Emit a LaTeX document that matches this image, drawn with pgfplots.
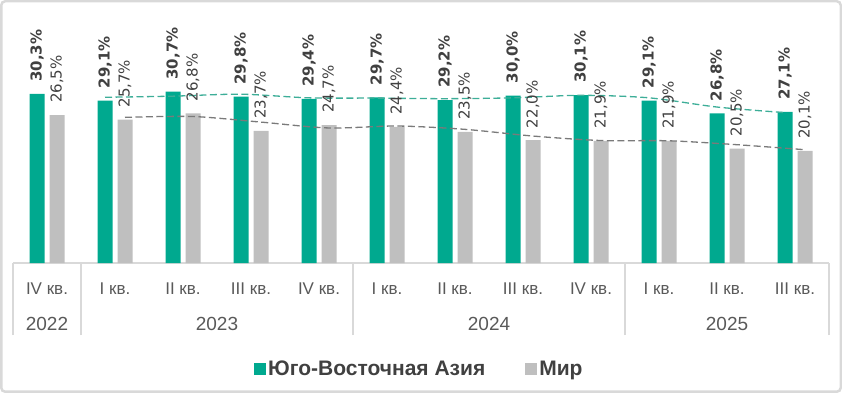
\documentclass[border=0pt]{standalone}
\usepackage{fontspec}
\setmainfont{Liberation Sans}
\newfontfamily\lab{DejaVu Sans}
\usepackage{pgfplots}
\pgfplotsset{compat=1.18}
\definecolor{sea}{HTML}{00A98F}
\definecolor{world}{HTML}{BFBFBF}
\definecolor{frame}{HTML}{D9D9D9}
\definecolor{txt}{HTML}{404040}
\definecolor{tickc}{HTML}{595959}
\definecolor{trendsea}{HTML}{3DAE98}
\definecolor{trendw}{HTML}{7A7A7A}
\begin{document}
\begin{tikzpicture}
\useasboundingbox (0,0) rectangle (842bp,393bp);
\draw[frame, line width=2.5bp, rounded corners=4bp] (1.25bp,1.25bp) rectangle (840.75bp,391.75bp);
\begin{axis}[
  at={(13bp,130bp)}, anchor=south west,
  scale only axis, width=816bp, height=223.2bp,
  xmin=-0.5, xmax=11.5, ymin=0, ymax=40,
  clip=false,
  axis y line=none,
  axis x line*=bottom,
  x axis line style={draw=frame, line width=1.5bp, -},
  ybar=5bp, bar width=15bp,
  xtick={0,...,11},
  xticklabels={IV кв., I кв., II кв., III кв., IV кв., I кв., II кв., III кв., IV кв., I кв., II кв., III кв.},
  major tick length=0pt,
  xticklabel style={font=\fontsize{17bp}{20bp}\selectfont, text=tickc, anchor=base, yshift=-31bp},
  extra x ticks={-0.5,0.5,4.5,8.5,11.5},
  extra x tick labels={},
  extra x tick style={major tick length=72bp, tick align=outside, tick style={draw=frame, line width=1.5bp}},
  /pgf/number format/.cd, use comma, fixed, fixed zerofill, precision=1, assume math mode=true,
  /pgfplots/.cd,
  nodes near coords={\pgfmathprintnumber{\pgfplotspointmeta}\%},
  legend columns=2,
  legend style={at={(0.498,-0.475)}, anchor=center, draw=none, fill=none,
    font=\fontsize{21bp}{24bp}\selectfont\bfseries, text=txt,
    /tikz/every even column/.append style={column sep=38bp}},
  legend image code/.code={\draw[#1,/tikz/.cd,draw=none] (0bp,-5.5bp) rectangle (12bp,6.5bp);},
]
\addplot[fill=sea, draw=none,
  nodes near coords style={font=\lab\bfseries\fontsize{15bp}{18bp}\selectfont, text=txt, rotate=90, anchor=west, inner xsep=12bp, inner ysep=0pt}]
  coordinates {(0,30.3) (1,29.1) (2,30.7) (3,29.8) (4,29.4) (5,29.7) (6,29.2) (7,30.0) (8,30.1) (9,29.1) (10,26.8) (11,27.1)};
\addlegendentry{Юго-Восточная Азия}
\addplot[fill=world, draw=none,
  nodes near coords style={font=\lab\fontsize{15bp}{18bp}\selectfont, text=txt, rotate=90, anchor=west, inner xsep=12bp, inner ysep=0pt}]
  coordinates {(0,26.5) (1,25.7) (2,26.8) (3,23.7) (4,24.7) (5,24.4) (6,23.5) (7,22.0) (8,21.9) (9,21.9) (10,20.5) (11,20.1)};
\addlegendentry{Мир}
\addplot[trendsea, line width=1.3bp, dash pattern=on 7bp off 3.5bp, smooth, no marks, forget plot, nodes near coords={}]
  coordinates {(0.853,29.70) (1.853,29.90) (2.853,30.25) (3.853,29.60) (4.853,29.55) (5.853,29.45) (6.853,29.60) (7.853,30.05) (8.853,29.60) (9.853,27.95) (10.853,26.95)};
\addplot[trendw, line width=1.3bp, dash pattern=on 7bp off 3.5bp, smooth, no marks, forget plot, nodes near coords={}]
  coordinates {(1.147,26.10) (2.147,26.25) (3.147,25.25) (4.147,24.20) (5.147,24.55) (6.147,23.95) (7.147,22.75) (8.147,21.95) (9.147,21.90) (10.147,21.20) (11.147,20.30)};
\node[font=\fontsize{19bp}{22bp}\selectfont, text=tickc, inner sep=0pt] at (axis cs:0,0) [yshift=-60.5bp] {2022};
\node[font=\fontsize{19bp}{22bp}\selectfont, text=tickc, inner sep=0pt] at (axis cs:2.5,0) [yshift=-60.5bp] {2023};
\node[font=\fontsize{19bp}{22bp}\selectfont, text=tickc, inner sep=0pt] at (axis cs:6.5,0) [yshift=-60.5bp] {2024};
\node[font=\fontsize{19bp}{22bp}\selectfont, text=tickc, inner sep=0pt] at (axis cs:10,0) [yshift=-60.5bp] {2025};
\end{axis}
\end{tikzpicture}
\end{document}
